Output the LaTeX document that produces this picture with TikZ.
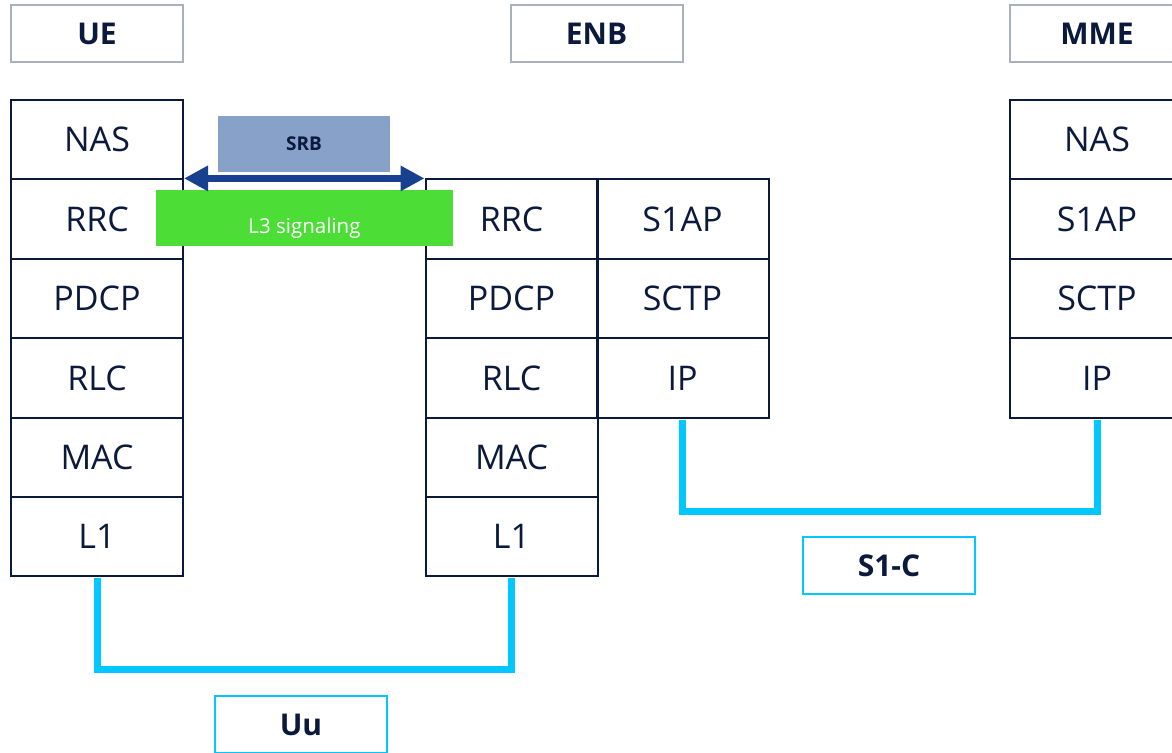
\documentclass[tikz,border=0pt]{standalone}
\usepackage{fontspec}
\setmainfont{Open Sans}
\usetikzlibrary{arrows.meta}
\definecolor{navy}{HTML}{0B1A3C}
\definecolor{titlegray}{HTML}{A9B1BB}
\definecolor{linkcyan}{HTML}{00C8FF}
\definecolor{srbblue}{HTML}{88A1C8}
\definecolor{arrowblue}{HTML}{17418F}
\definecolor{sigreen}{HTML}{4CDD37}
\tikzset{
  layer/.style={draw=navy, line width=2pt, minimum width=172pt, minimum height=79.4pt,
    inner sep=0pt, text=navy, font=\fontsize{34}{40}\selectfont},
  titlebox/.style={draw=titlegray, line width=2pt, minimum width=172pt, minimum height=57pt,
    inner sep=0pt, text=navy, font=\fontsize{30}{36}\selectfont\bfseries},
  ifbox/.style={draw=linkcyan, line width=2pt, minimum width=172pt, minimum height=57pt,
    inner sep=0pt, text=navy, font=\fontsize{30}{36}\selectfont\bfseries},
  link/.style={draw=linkcyan, line width=7pt},
  srbbox/.style={fill=srbblue, minimum width=172pt, minimum height=56pt, inner sep=0pt,
    text=navy, font=\fontsize{19}{23}\selectfont\bfseries},
  sigbox/.style={fill=sigreen, minimum width=297pt, minimum height=56pt, inner sep=0pt,
    text=white, font=\fontsize{20.5}{24}\selectfont},
  srbarrow/.style={draw=arrowblue, line width=7pt, {Triangle[length=24pt,width=24pt]}-{Triangle[length=24pt,width=24pt]}}
}
\begin{document}
\begin{tikzpicture}[x=1pt,y=-1pt]
\useasboundingbox (0,0) rectangle (1172,752);
% titles
\node[titlebox] (ue) at (97,33.5) {UE};
\node[titlebox] (enb) at (596.5,33.5) {ENB};
\node[titlebox, minimum width=174pt] (mme) at (1097,33.5) {MME};
% UE stack
\node[layer] (ueNAS)  at (97,139.7) {NAS};
\node[layer] (ueRRC)  at (97,219.1) {RRC};
\node[layer] (uePDCP) at (97,298.5) {PDCP};
\node[layer] (ueRLC)  at (97,377.9) {RLC};
\node[layer] (ueMAC)  at (97,457.3) {MAC};
\node[layer] (ueL1)   at (97,536.7) {L1};
% ENB stack
\node[layer] (enbRRC)  at (511.5,219.1) {RRC};
\node[layer] (enbPDCP) at (511.5,298.5) {PDCP};
\node[layer] (enbRLC)  at (511.5,377.9) {RLC};
\node[layer] (enbMAC)  at (511.5,457.3) {MAC};
\node[layer] (enbL1)   at (511.5,536.7) {L1};
\node[layer] (enbS1AP) at (682.5,219.1) {S1AP};
\node[layer] (enbSCTP) at (682.5,298.5) {SCTP};
\node[layer] (enbIP)   at (682.5,377.9) {IP};
% MME stack
\node[layer, minimum width=174pt] (mmeNAS)  at (1097,139.7) {NAS};
\node[layer, minimum width=174pt] (mmeS1AP) at (1097,219.1) {S1AP};
\node[layer, minimum width=174pt] (mmeSCTP) at (1097,298.5) {SCTP};
\node[layer, minimum width=174pt] (mmeIP)   at (1097,377.9) {IP};
% interfaces
\draw[link] ([yshift=-1pt]ueL1.south) -- ++(0,91) -| ([yshift=-1pt]enbL1.south);
\draw[link] ([yshift=-1pt]enbIP.south) -- ++(0,92) -| ([yshift=-1pt]mmeIP.south);
\node[ifbox] (uu) at (301,724.5) {Uu};
\node[ifbox] (s1c) at (889,565.5) {S1-C};
% SRB / signaling
\node[sigbox] (sig) at (304.5,218) {\raisebox{-15pt}[0pt][0pt]{L3 signaling}};
\node[srbbox] (srb) at (304,144) {SRB};
\draw[srbarrow] (ueRRC.north east) -- (enbRRC.north west);
\end{tikzpicture}
\end{document}
